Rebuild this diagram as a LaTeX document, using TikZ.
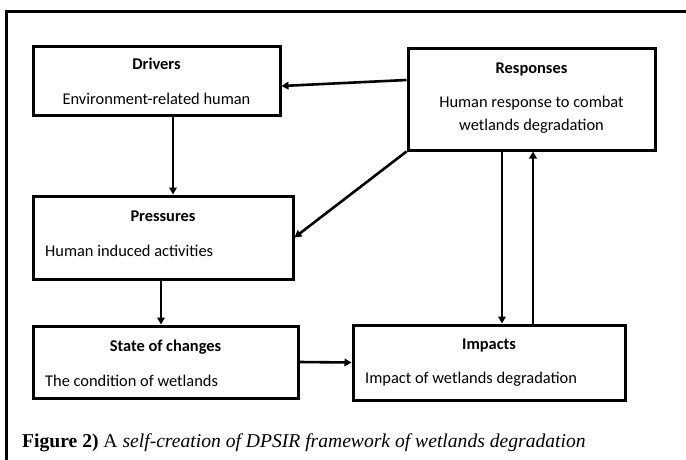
\documentclass[tikz,border=0pt]{standalone}
\usepackage{fontspec}
\setmainfont{Carlito}
\newfontfamily\capfont{Liberation Serif}
\usetikzlibrary{arrows.meta,calc}
\begin{document}
\begin{tikzpicture}[x=1pt,y=-1pt,
  box/.style={draw,line width=3pt,minimum width=#1,inner sep=0pt},
  ttl/.style={anchor=base,font=\fontsize{16.4}{19}\selectfont\bfseries,inner sep=0pt},
  txt/.style={anchor=base,font=\fontsize{16.4}{19}\selectfont,inner sep=0pt},
  arr/.style={line width=2.6pt,-{Triangle[length=7pt,width=7.5pt]}},
  frame/.style={line width=3pt}]
\useasboundingbox (0,0) rectangle (686,459);
% outer frame (clipped on right and bottom)
\coordinate (fb) at (6,470);
\coordinate (ftl) at (6,11);
\coordinate (ftr) at (700,11);
\draw[frame] (fb) -- (ftl) -- (ftr);
% boxes
\node[box=247pt,minimum height=69pt] (drv) at (156.5,80.5) {};
\node[box=247pt,minimum height=102pt] (resp) at (531.5,99) {};
\node[box=260pt,minimum height=83pt] (press) at (163,237.5) {};
\node[box=265pt,minimum height=72pt] (st) at (165.5,362) {};
\node[box=272pt,minimum height=75pt] (imp) at (489,362.5) {};
% texts
\node[ttl] (drvT) at (156.5,69) {Drivers};
\node[txt] (drvB) at (156.5,104) {Environment-related human};
\node[ttl] (respT) at (531.5,73) {Responses};
\node[txt] (respB1) at (531.5,107) {Human response to combat};
\node[txt] (respB2) at (531.5,130) {wetlands degradation};
\node[ttl] (pressT) at (163,221) {Pressures};
\node[txt,anchor=base west] (pressB) at (45,256) {Human induced activities};
\node[ttl] (stT) at (165.5,351) {State of changes};
\node[txt,anchor=base west] (stB) at (45,386) {The condition of wetlands};
\node[ttl] (impT) at (489,349) {Impacts};
\node[txt,anchor=base west] (impB) at (365,383) {Impact of wetlands degradation};
% arrows
\draw[arr] ([yshift=19pt]resp.west) -- ([yshift=-5.5pt]drv.east);
\draw[arr] (resp.south west) -- (press.east);
\draw[arr] ([xshift=16.5pt]drv.south) -- ([xshift=16.5pt]drv.south |- press.north);
\draw[arr] ([xshift=-2pt]press.south) -- ([xshift=-2pt]press.south |- st.north);
\draw[arr] (st.east) -- (imp.west);
\draw[arr] ([xshift=-29.5pt]resp.south) -- ([xshift=-29.5pt]resp.south |- imp.north);
\draw[arr] ([xshift=1.5pt]resp.south |- imp.north) -- ([xshift=1.5pt]resp.south);
% caption
\node[anchor=base west,inner sep=0pt,font=\capfont\fontsize{19.6}{23}\selectfont] (cap) at (22,447) {\textbf{Figure 2)} A \textit{self-creation of DPSIR framework of wetlands degradation}};
\end{tikzpicture}
\end{document}
